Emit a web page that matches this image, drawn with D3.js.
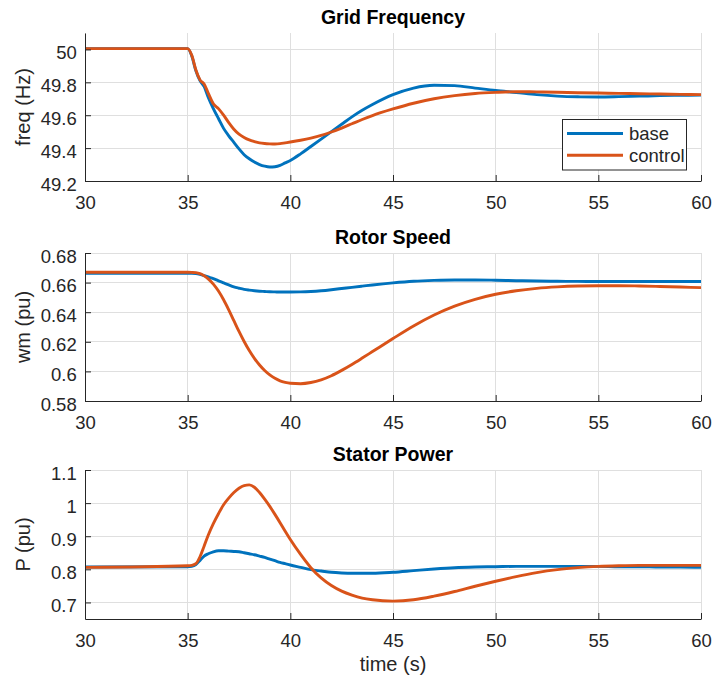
<!DOCTYPE html>
<html>
<head>
<meta charset="utf-8">
<script src="https://cdn.jsdelivr.net/npm/d3@7"></script>
<style>
  html, body { margin: 0; padding: 0; background: #fff; }
  svg { display: block; font-family: "Liberation Sans", Arial, Helvetica, sans-serif; }
</style>
</head>
<body>
<svg id="chart" width="713" height="680"></svg>
<script>
// Simulation time base (s), shared by every trace
const time = [30, 35, 35.2, 35.4, 35.6, 35.8, 36, 36.25, 36.5, 36.75, 37, 37.25, 37.5, 37.75,
  38, 38.25, 38.5, 38.75, 39, 39.25, 39.5, 39.75, 40, 40.5, 41, 41.5, 42, 42.5, 43, 43.5, 44,
  45, 46, 47, 48, 49, 50, 51, 52, 53, 54, 55, 56, 57, 58, 59, 60];

// Grid frequency (Hz)
const freqBase = [50.005, 50.005, 49.96, 49.87, 49.81, 49.775, 49.71, 49.64, 49.58, 49.52, 49.475,
  49.435, 49.395, 49.36, 49.335, 49.315, 49.30, 49.29, 49.285, 49.287, 49.295, 49.31, 49.325,
  49.365, 49.41, 49.455, 49.50, 49.545, 49.59, 49.63, 49.665, 49.725, 49.765, 49.782, 49.78,
  49.765, 49.75, 49.738, 49.725, 49.716, 49.712, 49.711, 49.713, 49.716, 49.719, 49.721, 49.722];
const freqControl = [50.005, 50.005, 49.965, 49.875, 49.815, 49.79, 49.735, 49.67, 49.64, 49.60,
  49.555, 49.515, 49.485, 49.465, 49.45, 49.44, 49.432, 49.428, 49.426, 49.425, 49.427, 49.432,
  49.437, 49.448, 49.461, 49.477, 49.498, 49.522, 49.548, 49.574, 49.598, 49.638, 49.673, 49.70,
  49.719, 49.732, 49.739, 49.743, 49.742, 49.74, 49.737, 49.735, 49.733, 49.731, 49.729, 49.727, 49.725];

// Rotor speed (pu)
const speedBase = [0.6663, 0.6663, 0.6663, 0.6661, 0.6655, 0.6647, 0.6638, 0.6627, 0.6612, 0.6598,
  0.6584, 0.6571, 0.6562, 0.6554, 0.6549, 0.6545, 0.6542, 0.6540, 0.6538, 0.6537, 0.6536, 0.6536,
  0.6536, 0.6537, 0.6540, 0.6545, 0.6552, 0.6560, 0.6568, 0.6576, 0.6584, 0.6598, 0.6609, 0.6615,
  0.6618, 0.6618, 0.6616, 0.6613, 0.6611, 0.6609, 0.6608, 0.6607, 0.6607, 0.6607, 0.6607, 0.6607, 0.6607];
const speedControl = [0.6670, 0.6670, 0.6669, 0.6667, 0.6660, 0.6646, 0.6625, 0.6590, 0.6543, 0.6484,
  0.6416, 0.6343, 0.6270, 0.6202, 0.6141, 0.6088, 0.6043, 0.6006, 0.5976, 0.5953, 0.5936, 0.5926,
  0.5920, 0.5917, 0.5925, 0.5943, 0.5971, 0.6007, 0.6047, 0.6090, 0.6134, 0.6222, 0.6307, 0.6381,
  0.6441, 0.6487, 0.6521, 0.6545, 0.6561, 0.6571, 0.6577, 0.6579, 0.6579, 0.6577, 0.6574, 0.6570, 0.6566];

// Stator power (pu)
const powerBase = [0.807, 0.808, 0.809, 0.814, 0.827, 0.840, 0.847, 0.853, 0.856, 0.856, 0.855,
  0.854, 0.853, 0.850, 0.847, 0.844, 0.840, 0.836, 0.831, 0.826, 0.821, 0.817, 0.813, 0.806,
  0.799, 0.795, 0.791, 0.789, 0.788, 0.788, 0.788, 0.791, 0.796, 0.801, 0.805, 0.807, 0.808,
  0.809, 0.809, 0.809, 0.809, 0.809, 0.808, 0.808, 0.807, 0.807, 0.806];
const powerControl = [0.806, 0.811, 0.812, 0.817, 0.838, 0.870, 0.903, 0.938, 0.968, 0.995, 1.015,
  1.032, 1.045, 1.053, 1.055, 1.048, 1.032, 1.012, 0.990, 0.966, 0.941, 0.915, 0.890, 0.845,
  0.805, 0.774, 0.751, 0.734, 0.722, 0.713, 0.708, 0.704, 0.708, 0.719, 0.733, 0.749, 0.764,
  0.778, 0.790, 0.799, 0.805, 0.809, 0.811, 0.812, 0.812, 0.812, 0.812];

// Axis ticks
const timeTicks = [30, 35, 40, 45, 50, 55, 60];
const freqTicks = [49.2, 49.4, 49.6, 49.8, 50];
const speedTicks = [0.58, 0.6, 0.62, 0.64, 0.66, 0.68];
const powerTicks = [0.7, 0.8, 0.9, 1, 1.1];

// Text
const titles = ["Grid Frequency", "Rotor Speed", "Stator Power"];
const yLabels = ["freq (Hz)", "wm (pu)", "P (pu)"];
const seriesNames = ["base", "control"];
const xLabel = "time (s)";

// Styling
const colors = ["#0072BD", "#D95319"];
const axisColor = "#262626";
const gridColor = "#dfdfdf";
const tickFont = 18.5;
const labelFont = 20;

const panels = [
  { title: titles[0], ylabel: yLabels[0], domain: [49.2, 50.1], ticks: freqTicks,
    series: [freqBase, freqControl], top: 33, bottom: 181, legend: true },
  { title: titles[1], ylabel: yLabels[1], domain: [0.58, 0.68], ticks: speedTicks,
    series: [speedBase, speedControl], top: 253, bottom: 401 },
  { title: titles[2], ylabel: yLabels[2], domain: [0.65, 1.1], ticks: powerTicks,
    series: [powerBase, powerControl], top: 470, bottom: 619, xlabel: true }
];

const svg = d3.select("#chart");
const left = 85, right = 701;
const x = d3.scaleLinear().domain([30, 60]).range([left, right]);

panels.forEach(p => {
  const y = d3.scaleLinear().domain(p.domain).range([p.bottom, p.top]);
  const g = svg.append("g");

  // grid
  g.append("g").selectAll("line").data(timeTicks).join("line")
    .attr("x1", d => x(d)).attr("x2", d => x(d))
    .attr("y1", p.top).attr("y2", p.bottom)
    .attr("stroke", gridColor).attr("stroke-width", 1).attr("shape-rendering", "crispEdges");
  g.append("g").selectAll("line").data(p.ticks).join("line")
    .attr("x1", left).attr("x2", right)
    .attr("y1", d => y(d)).attr("y2", d => y(d))
    .attr("stroke", gridColor).attr("stroke-width", 1).attr("shape-rendering", "crispEdges");

  // series
  const line = d3.line()
    .x((d, i) => x(time[i]))
    .y(d => y(d))
    .curve(d3.curveMonotoneX);
  p.series.forEach((s, k) => {
    g.append("path").datum(s)
      .attr("d", line)
      .attr("fill", "none")
      .attr("stroke", colors[k])
      .attr("stroke-width", 2.9)
      .attr("stroke-linejoin", "round");
  });

  // axes
  const xAxis = d3.axisBottom(x).tickValues(timeTicks).tickFormat(d => String(d))
    .tickSizeInner(-6).tickSizeOuter(0).tickPadding(14.4);
  const gx = g.append("g").attr("transform", `translate(0,${p.bottom})`).call(xAxis);
  const yAxis = d3.axisLeft(y).tickValues(p.ticks).tickFormat(d => String(d))
    .tickSizeInner(-6).tickSizeOuter(0).tickPadding(8.3);
  const gy = g.append("g").attr("transform", `translate(${left},0)`).call(yAxis);
  [gx, gy].forEach(a => {
    a.select(".domain").attr("stroke", axisColor).attr("stroke-width", 1);
    a.selectAll(".tick line").attr("stroke", axisColor).attr("stroke-width", 1);
    a.selectAll(".tick text").attr("fill", axisColor)
      .style("font-size", tickFont + "px")
      .attr("font-family", null);
    a.attr("font-family", null).attr("font-size", null);
  });
  gy.selectAll(".tick text").attr("dy", "0.49em");

  // title
  svg.append("text")
    .attr("x", (left + right) / 2).attr("y", p.top - 9.5)
    .attr("text-anchor", "middle")
    .attr("fill", "#000")
    .style("font-size", "19.5px").style("font-weight", "bold")
    .text(p.title);

  // y label
  svg.append("text")
    .attr("transform", `translate(29.5,${(p.top + p.bottom) / 2}) rotate(-90)`)
    .attr("text-anchor", "middle")
    .attr("fill", axisColor)
    .style("font-size", labelFont + "px")
    .text(p.ylabel);

  if (p.xlabel) {
    svg.append("text")
      .attr("x", (left + right) / 2).attr("y", p.bottom + 52)
      .attr("text-anchor", "middle")
      .attr("fill", axisColor)
      .style("font-size", labelFont + "px")
      .text(xLabel);
  }

  if (p.legend) {
    const lg = svg.append("g").attr("transform", "translate(562.5,119.5)");
    lg.append("rect").attr("width", 124).attr("height", 50.5)
      .attr("fill", "#fff").attr("stroke", axisColor).attr("stroke-width", 1);
    seriesNames.forEach((name, k) => {
      const ly = 14 + k * 21.7;
      lg.append("line").attr("x1", 4.5).attr("x2", 60.5).attr("y1", ly).attr("y2", ly)
        .attr("stroke", colors[k]).attr("stroke-width", 2.9);
      lg.append("text").attr("x", 66.5).attr("y", ly + 6.3)
        .attr("fill", axisColor).style("font-size", tickFont + "px").text(name);
    });
  }
});
</script>
</body>
</html>
